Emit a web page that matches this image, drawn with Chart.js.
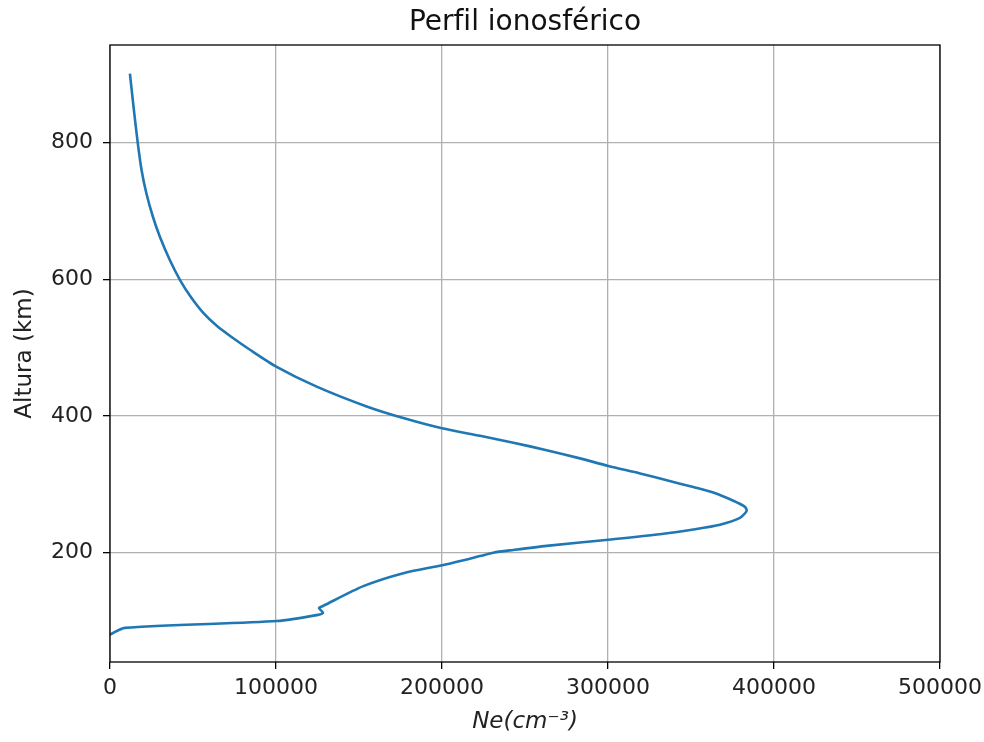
<!DOCTYPE html>
<html lang="es">
<head>
    <meta charset="UTF-8">
    <title>Perfil ionosférico</title>
    <script src="https://cdn.jsdelivr.net/npm/chart.js"></script>
    <style>
        html, body { margin: 0; padding: 0; background: #ffffff; }
        #wrap { width: 984px; height: 742px; }
    </style>
</head>
<body>
    <div id="wrap"><canvas id="perfil"></canvas></div>

    <script>
        // densidad electronica (cm^-3) y altura (km)
        const densidad = [0, 9000, 100600, 125300, 128300, 125900, 128300, 152600, 176700, 200800,
            222900, 230900, 243000, 263000, 300200, 331300, 351400, 367500, 379500, 383500,
            382500, 375500, 363400, 351400, 335400, 319300, 300200, 283100, 263000, 243000,
            222900, 200000, 176700, 154600, 124500, 100400, 84300, 73000, 64300, 56200,
            48500, 42200, 36100, 30100, 25800, 21900, 19000, 16700, 14300, 12000];
        const altura = [80, 90, 100, 109, 112, 119, 122, 151, 170, 182,
            195, 200, 204, 210, 219, 227, 234, 241, 251, 261,
            267, 276, 288, 296, 306, 316, 327, 338, 350, 361,
            371, 382, 397, 414, 443, 472, 497, 516, 532, 551,
            575, 599, 628, 662, 692, 726, 760, 800, 850, 901];

        const xTicks = [0, 100000, 200000, 300000, 400000, 500000];
        const yTicks = [200, 400, 600, 800];
        const titulo = 'Perfil ionosférico';

        const puntos = densidad.map((d, i) => ({ x: d, y: altura[i] }));

        // caja completa del eje y titulo centrado sobre el area del grafico
        const marco = {
            id: 'marco',
            afterDatasetsDraw(chart) {
                const a = chart.chartArea;
                const ctx = chart.ctx;
                ctx.save();
                ctx.strokeStyle = '#000';
                ctx.lineWidth = 1.3;
                ctx.strokeRect(a.left, a.top, a.right - a.left, a.bottom - a.top);
                ctx.fillStyle = '#111';
                ctx.font = '28px "DejaVu Sans"';
                ctx.textAlign = 'center';
                ctx.textBaseline = 'middle';
                ctx.fillText(titulo, (a.left + a.right) / 2, 23);
                ctx.restore();
            }
        };

        const grid = {
            color: '#b0b0b0',
            lineWidth: 1.3,
            tickColor: '#000',
            tickLength: 7
        };

        new Chart(document.getElementById('perfil'), {
            type: 'scatter',
            data: {
                datasets: [{
                    data: puntos,
                    showLine: true,
                    borderColor: '#1f77b4',
                    borderWidth: 2.6,
                    pointRadius: 0,
                    tension: 0.25,
                    fill: false
                }]
            },
            options: {
                responsive: true,
                maintainAspectRatio: false,
                animation: false,
                layout: { padding: { top: 45, right: 44, bottom: 0, left: 0 } },
                plugins: {
                    legend: { display: false },
                    tooltip: { enabled: false }
                },
                scales: {
                    x: {
                        type: 'linear',
                        min: 0,
                        max: 500000,
                        grid: grid,
                        border: { display: false },
                        afterBuildTicks: s => { s.ticks = xTicks.map(v => ({ value: v })); },
                        afterFit: s => { s.height = 80; s.paddingLeft = 0; s.paddingRight = 0; },
                        ticks: {
                            color: '#222',
                            padding: 6,
                            maxRotation: 0,
                            font: { family: 'DejaVu Sans', size: 22 },
                            callback: v => String(v)
                        },
                        title: {
                            display: true,
                            text: 'Ne(cm⁻³)',
                            color: '#222',
                            font: { family: 'DejaVu Sans', size: 23, style: 'italic' },
                            padding: { top: 0, bottom: 6 }
                        }
                    },
                    y: {
                        type: 'linear',
                        min: 40,
                        max: 943,
                        grid: grid,
                        border: { display: false },
                        afterBuildTicks: s => { s.ticks = yTicks.map(v => ({ value: v })); },
                        afterFit: s => { s.width = 110; s.paddingTop = 0; s.paddingBottom = 0; },
                        ticks: {
                            color: '#222',
                            padding: 10,
                            font: { family: 'DejaVu Sans', size: 22 }
                        },
                        title: {
                            display: true,
                            text: 'Altura (km)',
                            color: '#222',
                            font: { family: 'DejaVu Sans', size: 23 },
                            padding: { top: 11, bottom: 0 }
                        }
                    }
                }
            },
            plugins: [marco]
        });
    </script>
</body>
</html>
